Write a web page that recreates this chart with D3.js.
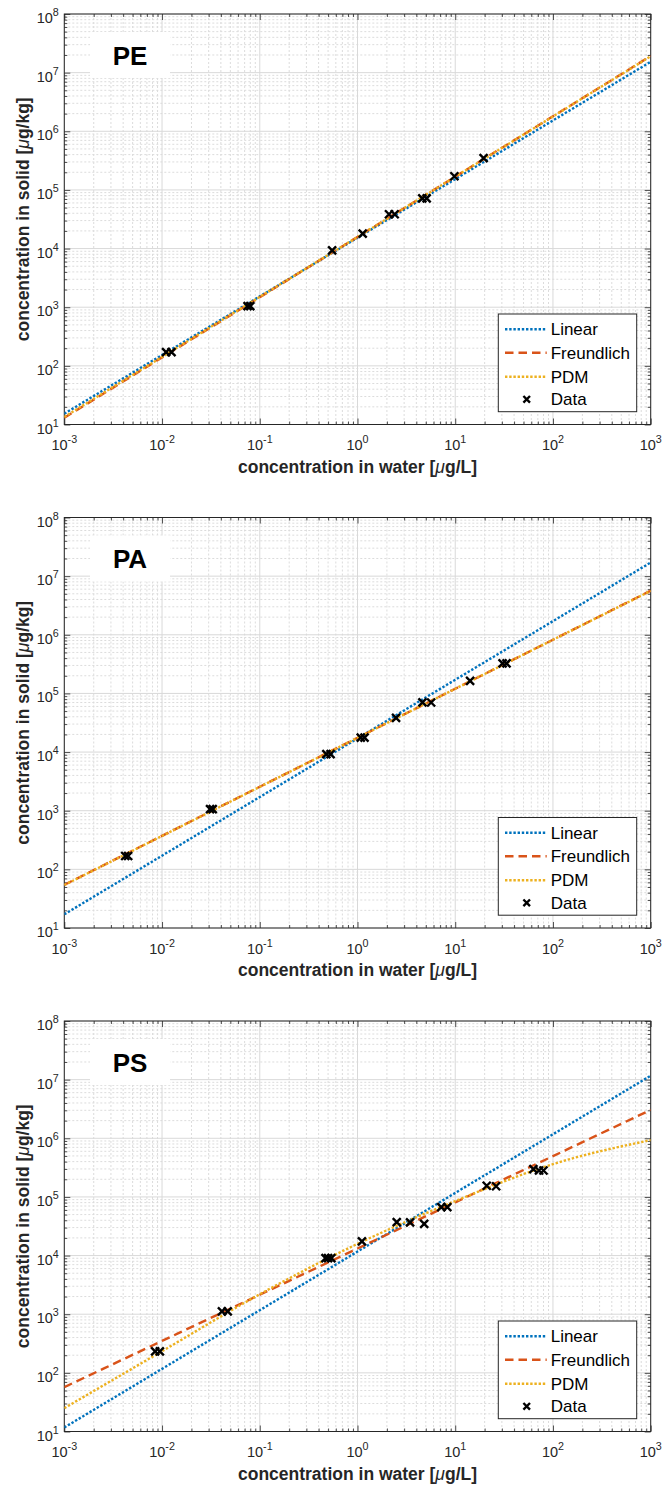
<!DOCTYPE html>
<html>
<head>
<meta charset="utf-8">
<script src="https://cdn.jsdelivr.net/npm/d3@7"></script>
<style>
  body { margin: 0; background: #fff; }
  svg { display: block; }
</style>
</head>
<body>
<div id="chart"></div>
<script>
(function () {
  // values
  const panelNames = ["PE", "PA", "PS"];
  const xExponents = [-3, -2, -1, 0, 1, 2, 3];
  const yExponents = [1, 2, 3, 4, 5, 6, 7, 8];
  const legendLabels = ["Linear", "Freundlich", "PDM", "Data"];

  // fitted curves, read at each decade of x
  const fitX = [1e-3, 1e-2, 1e-1, 1, 10, 100, 1000];

  const peLinear = [15.3, 153, 1530, 15300, 153000, 1530000, 15300000];
  const peFreundlich = [13, 139, 1480, 15800, 168500, 1800000, 19200000];
  const pePdm = [13.5, 142, 1500, 15800, 168000, 1790000, 19000000];
  const peDataX = [0.011, 0.0125, 0.075, 0.08, 0.55, 1.13, 2.1, 2.4, 4.6, 5.1, 9.8, 19.5];
  const peDataY = [171, 171, 1047, 1047, 9340, 18000, 38500, 38500, 72000, 72000, 171000, 348000];

  const paLinear = [17.1, 171, 1710, 17100, 171000, 1710000, 17100000];
  const paFreundlich = [54.4, 373, 2560, 17540, 120200, 824000, 5650000];
  const paPdm = [54, 371, 2550, 17500, 120000, 822000, 5600000];
  const paDataX = [0.0042, 0.0045, 0.031, 0.033, 0.48, 0.53, 1.08, 1.18, 2.48, 4.62, 5.67, 14.2, 30.5, 33.5];
  const paDataY = [169, 169, 1062, 1062, 9210, 9210, 17700, 17700, 38400, 70200, 70000, 164000, 325000, 325000];

  const psLinear = [11.7, 117, 1170, 11700, 117000, 1170000, 11700000];
  const psFreundlich = [57, 350, 2148, 13180, 80900, 496600, 3050000];
  const psPdm = [25, 234, 2190, 15850, 85100, 363000, 933000];
  const psDataX = [0.0085, 0.0095, 0.041, 0.047, 0.47, 0.5, 0.54, 1.11, 2.52, 3.45, 4.81, 7.2, 8.3, 21, 26.2, 63, 72, 80];
  const psDataY = [233, 233, 1120, 1120, 9080, 9080, 9080, 17400, 37200, 36700, 34800, 67000, 67000, 155000, 152000, 298000, 282000, 282000];

  const panels = [
    { name: panelNames[0], linear: peLinear, freundlich: peFreundlich, pdm: pePdm, dx: peDataX, dy: peDataY },
    { name: panelNames[1], linear: paLinear, freundlich: paFreundlich, pdm: paPdm, dx: paDataX, dy: paDataY },
    { name: panelNames[2], linear: psLinear, freundlich: psFreundlich, pdm: psPdm, dx: psDataX, dy: psDataY }
  ];

  const W = 666, H = 1486;
  const left = 64.3, right = 650.7, plotH = 410.5, step = 503.5, firstTop = 14;
  const font = "'Liberation Sans', Arial, Helvetica, sans-serif";
  const axisColor = "#262626";
  const colors = { linear: "#0072BD", freundlich: "#D95319", pdm: "#EDB120" };
  const dotDash = "2.4,1.8";

  const svg = d3.select("#chart").append("svg")
    .attr("width", W).attr("height", H)
    .style("font-family", font);

  function minorValues(lo, hi) {
    const out = [];
    for (let e = lo; e < hi; e++) {
      for (let m = 2; m <= 9; m++) out.push(m * Math.pow(10, e));
    }
    return out;
  }

  function supLabel(sel, exp, baseSize) {
    sel.append("tspan").text("10");
    sel.append("tspan").attr("dy", -7).attr("font-size", baseSize * 0.74).text(exp);
  }

  panels.forEach((p, i) => {
    const top = firstTop + i * step;
    const bottom = top + plotH;
    const x = d3.scaleLog().domain([1e-3, 1e3]).range([left, right]);
    const y = d3.scaleLog().domain([10, 1e8]).range([bottom, top]);

    const g = svg.append("g");
    const clipId = "clip" + i;
    g.append("clipPath").attr("id", clipId)
      .append("rect").attr("x", left).attr("y", top).attr("width", right - left).attr("height", plotH);

    // grid: minor (dotted) then major
    const xMinor = minorValues(-3, 3), yMinor = minorValues(1, 8);
    const xMajor = xExponents.map(e => Math.pow(10, e));
    const yMajor = yExponents.map(e => Math.pow(10, e));

    const grid = g.append("g");
    grid.selectAll(".gxm").data(xMinor).join("line")
      .attr("x1", d => x(d)).attr("x2", d => x(d)).attr("y1", top).attr("y2", bottom)
      .attr("stroke", "#dcdcdc").attr("stroke-width", 1).attr("stroke-dasharray", "2,2");
    grid.selectAll(".gym").data(yMinor).join("line")
      .attr("x1", left).attr("x2", right).attr("y1", d => y(d)).attr("y2", d => y(d))
      .attr("stroke", "#dcdcdc").attr("stroke-width", 1).attr("stroke-dasharray", "2,2");
    grid.selectAll(".gxM").data(xMajor).join("line")
      .attr("x1", d => x(d)).attr("x2", d => x(d)).attr("y1", top).attr("y2", bottom)
      .attr("stroke", "#d9d9d9").attr("stroke-width", 1);
    grid.selectAll(".gyM").data(yMajor).join("line")
      .attr("x1", left).attr("x2", right).attr("y1", d => y(d)).attr("y2", d => y(d))
      .attr("stroke", "#d9d9d9").attr("stroke-width", 1);

    // panel name box (hides grid)
    g.append("rect").attr("x", 90).attr("y", top + 18).attr("width", 80).attr("height", 46).attr("fill", "#fff");
    g.append("text").attr("x", 130).attr("y", top + 50.5)
      .attr("text-anchor", "middle").attr("font-size", 26).attr("font-weight", "bold")
      .attr("fill", "#000").text(p.name);

    // axes with inward ticks
    const tickStyle = a => a.selectAll("path").remove();
    const mk = (axisFn, scale, vals, size) => axisFn(scale).tickValues(vals).tickSize(size).tickFormat("");
    const axes = g.append("g");
    axes.append("g").attr("transform", `translate(0,${bottom})`).call(mk(d3.axisBottom, x, xMajor, -6)).call(tickStyle);
    axes.append("g").attr("transform", `translate(0,${bottom})`).call(mk(d3.axisBottom, x, xMinor, -3)).call(tickStyle);
    axes.append("g").attr("transform", `translate(0,${top})`).call(mk(d3.axisTop, x, xMajor, -6)).call(tickStyle);
    axes.append("g").attr("transform", `translate(0,${top})`).call(mk(d3.axisTop, x, xMinor, -3)).call(tickStyle);
    axes.append("g").attr("transform", `translate(${left},0)`).call(mk(d3.axisLeft, y, yMajor, -6)).call(tickStyle);
    axes.append("g").attr("transform", `translate(${left},0)`).call(mk(d3.axisLeft, y, yMinor, -3)).call(tickStyle);
    axes.append("g").attr("transform", `translate(${right},0)`).call(mk(d3.axisRight, y, yMajor, -6)).call(tickStyle);
    axes.append("g").attr("transform", `translate(${right},0)`).call(mk(d3.axisRight, y, yMinor, -3)).call(tickStyle);
    axes.selectAll("line").attr("stroke", axisColor).attr("stroke-width", 0.8);
    axes.append("rect").attr("x", left).attr("y", top).attr("width", right - left).attr("height", plotH)
      .attr("fill", "none").attr("stroke", axisColor).attr("stroke-width", 1);

    // tick labels
    xExponents.forEach(e => {
      const t = g.append("text").attr("x", x(Math.pow(10, e))).attr("y", bottom + 25.5)
        .attr("text-anchor", "middle").attr("font-size", 14.5).attr("fill", axisColor);
      supLabel(t, e, 14.5);
    });
    yExponents.forEach(e => {
      const t = g.append("text").attr("x", left - 5.5).attr("y", y(Math.pow(10, e)) + 9)
        .attr("text-anchor", "end").attr("font-size", 14.5).attr("fill", axisColor);
      supLabel(t, e, 14.5);
    });

    // axis titles
    const xl = g.append("text").attr("x", (left + right) / 2).attr("y", bottom + 48)
      .attr("text-anchor", "middle").attr("font-size", 17.5).attr("font-weight", "bold").attr("fill", axisColor);
    xl.append("tspan").text("concentration in water [");
    xl.append("tspan").attr("font-style", "italic").attr("font-weight", "normal").text("μ");
    xl.append("tspan").text("g/L]");

    const yl = g.append("text").attr("transform", `translate(29,${(top + bottom) / 2}) rotate(-90)`)
      .attr("text-anchor", "middle").attr("font-size", 17.5).attr("font-weight", "bold").attr("fill", axisColor);
    yl.append("tspan").text("concentration in solid [");
    yl.append("tspan").attr("font-style", "italic").attr("font-weight", "normal").text("μ");
    yl.append("tspan").text("g/kg]");

    // fitted curves
    const line = d3.line().x(d => x(d[0])).y(d => y(d[1])).curve(d3.curveMonotoneX);
    const plot = g.append("g").attr("clip-path", `url(#${clipId})`);
    const series = [
      { vals: p.linear, color: colors.linear, dash: dotDash },
      { vals: p.freundlich, color: colors.freundlich, dash: "8.5,5" },
      { vals: p.pdm, color: colors.pdm, dash: dotDash }
    ];
    series.forEach(s => {
      plot.append("path")
        .datum(fitX.map((xv, k) => [xv, s.vals[k]]))
        .attr("d", line)
        .attr("fill", "none").attr("stroke", s.color).attr("stroke-width", 2.4)
        .attr("stroke-dasharray", s.dash);
    });

    // data markers
    plot.selectAll(".pt").data(p.dx.map((xv, k) => [xv, p.dy[k]])).join("path")
      .attr("transform", d => `translate(${x(d[0])},${y(d[1])})`)
      .attr("d", "M-4,-4L4,4M-4,4L4,-4")
      .attr("stroke", "#000").attr("stroke-width", 2.4).attr("fill", "none");

    // legend
    const lg = g.append("g");
    lg.append("rect").attr("x", 498.3).attr("y", top + 300).attr("width", 138.4).attr("height", 97.7)
      .attr("fill", "#fff").attr("stroke", axisColor).attr("stroke-width", 1);
    const rowY = [315.3, 338.7, 362.7, 385.3];
    legendLabels.forEach((lab, k) => {
      const ry = top + rowY[k];
      if (k < 3) {
        lg.append("line").attr("x1", 505).attr("x2", 546.7).attr("y1", ry).attr("y2", ry)
          .attr("stroke", series[k].color).attr("stroke-width", 2.4).attr("stroke-dasharray", series[k].dash);
      } else {
        lg.append("path").attr("transform", `translate(526.7,${ry})`)
          .attr("d", "M-3.3,-3.3L3.3,3.3M-3.3,3.3L3.3,-3.3")
          .attr("stroke", "#000").attr("stroke-width", 2.4);
      }
      lg.append("text").attr("x", 550.7).attr("y", ry + 6)
        .attr("font-size", 17).attr("fill", "#000").text(lab);
    });
  });
})();
</script>
</body>
</html>
